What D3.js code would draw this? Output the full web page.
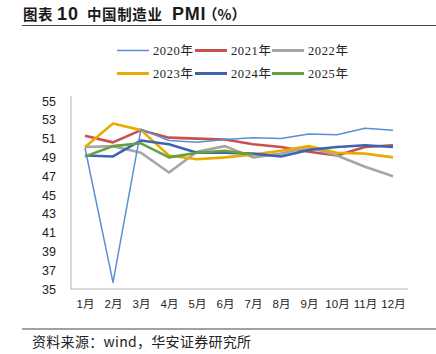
<!DOCTYPE html>
<html><head><meta charset="utf-8">
<script src="https://cdn.jsdelivr.net/npm/d3@7"></script>
<style>body{margin:0;background:#fff}svg{display:block}</style>
</head><body>
<svg id="c" width="436" height="354"></svg>
<script>
const months = ["1月","2月","3月","4月","5月","6月","7月","8月","9月","10月","11月","12月"];
const yTicks = [35,37,39,41,43,45,47,49,51,53,55];
const seriesNames = ["2020年","2021年","2022年","2023年","2024年","2025年"];
const v2020 = [50.0,35.7,52.0,50.8,50.6,50.9,51.1,51.0,51.5,51.4,52.1,51.9];
const v2021 = [51.3,50.6,51.9,51.1,51.0,50.9,50.4,50.1,49.6,49.2,50.1,50.3];
const v2022 = [50.1,50.2,49.5,47.4,49.6,50.2,49.0,49.4,50.1,49.2,48.0,47.0];
const v2023 = [50.1,52.6,51.9,49.2,48.8,49.0,49.3,49.7,50.2,49.5,49.4,49.0];
const v2024 = [49.2,49.1,50.8,50.4,49.5,49.5,49.4,49.1,49.8,50.1,50.3,50.1];
const v2025 = [49.1,50.2,50.5,49.0,49.5,49.7,49.3];
const colors = ["#5b8fd4","#c9504d","#a5a5a5","#e8ab00","#3c64b1","#66a03f"];
const widths = [1.5,2.6,2.6,2.6,2.6,2.6];
const data = [v2020,v2021,v2022,v2023,v2024,v2025];

const svg = d3.select("#c");
const cjk = "'Noto Sans CJK SC','Liberation Sans',sans-serif";
const latin = "'Liberation Sans','Noto Sans CJK SC',sans-serif";

// title (segments)
const titleParts = [
  {t:"图表", x:23, f:cjk, s:14.5, ls:0.5},
  {t:"10", x:57, f:latin, s:18, ls:1},
  {t:"中国制造业", x:87, f:cjk, s:14.5, ls:0.6},
  {t:"PMI", x:172, f:latin, s:18, ls:0.8},
  {t:"（%）", x:203, f:cjk, s:14.5, ls:0}
];
titleParts.forEach(p=>{
  svg.append("text").attr("x",p.x).attr("y",20).attr("font-family",p.f).attr("font-weight","bold")
    .attr("font-size",p.s).attr("letter-spacing",p.ls).attr("fill","#1a1a1a").text(p.t);
});
svg.append("line").attr("x1",22).attr("x2",436).attr("y1",25.5).attr("y2",25.5).attr("stroke","#444").attr("stroke-width",1.2);

const x = d3.scalePoint().domain(months).range([85,393]);
const y = d3.scaleLinear().domain([35,55]).range([289,101]);

// axes
const gy = svg.append("g").attr("transform","translate(71,0)")
  .call(d3.axisLeft(y).tickValues(yTicks).tickSize(0).tickPadding(15).tickFormat(d3.format("d")));
gy.select(".domain").attr("stroke","#b0b0b0").attr("d","M0,96V289");
gy.selectAll("text").attr("font-family","'Liberation Sans',sans-serif").attr("font-size",12.5).attr("fill","#222");

const gx = svg.append("g").attr("transform","translate(0,289)")
  .call(d3.axisBottom(x).tickSize(0).tickPadding(11));
gx.select(".domain").attr("stroke","#b0b0b0").attr("d","M71,0H408");
gx.selectAll("text").attr("font-family",latin).attr("font-size",11.5).attr("fill","#222");

// lines
const line = d3.line().x((d,i)=>x(months[i])).y(d=>y(d));
const order = [1,2,3,4,5,0];
order.forEach(k=>{
  svg.append("path").datum(data[k]).attr("d",line).attr("fill","none")
    .attr("stroke",colors[k]).attr("stroke-width",widths[k]).attr("stroke-linejoin","round");
});

// legend
const lx = [117,195,272], ly = [50.5,73.5];
seriesNames.forEach((n,k)=>{
  const cx = lx[k%3], cy = ly[Math.floor(k/3)];
  svg.append("line").attr("x1",cx).attr("x2",cx+32).attr("y1",cy).attr("y2",cy)
    .attr("stroke",colors[k]).attr("stroke-width",k===0?1.5:3);
  svg.append("text").attr("x",cx+36).attr("y",cy+4.5).attr("font-family","'Liberation Serif','Noto Sans CJK SC',serif")
    .attr("font-size",12.5).attr("fill","#222").attr("letter-spacing",0.6).text(n);
});

// source
svg.append("line").attr("x1",22).attr("x2",436).attr("y1",329).attr("y2",329).attr("stroke","#444").attr("stroke-width",1.2);
svg.append("text").attr("x",32).attr("y",347).attr("font-family",cjk).attr("font-size",14)
  .attr("letter-spacing",0.3).attr("fill","#222").text("资料来源：wind，华安证券研究所");
</script>
</body></html>
